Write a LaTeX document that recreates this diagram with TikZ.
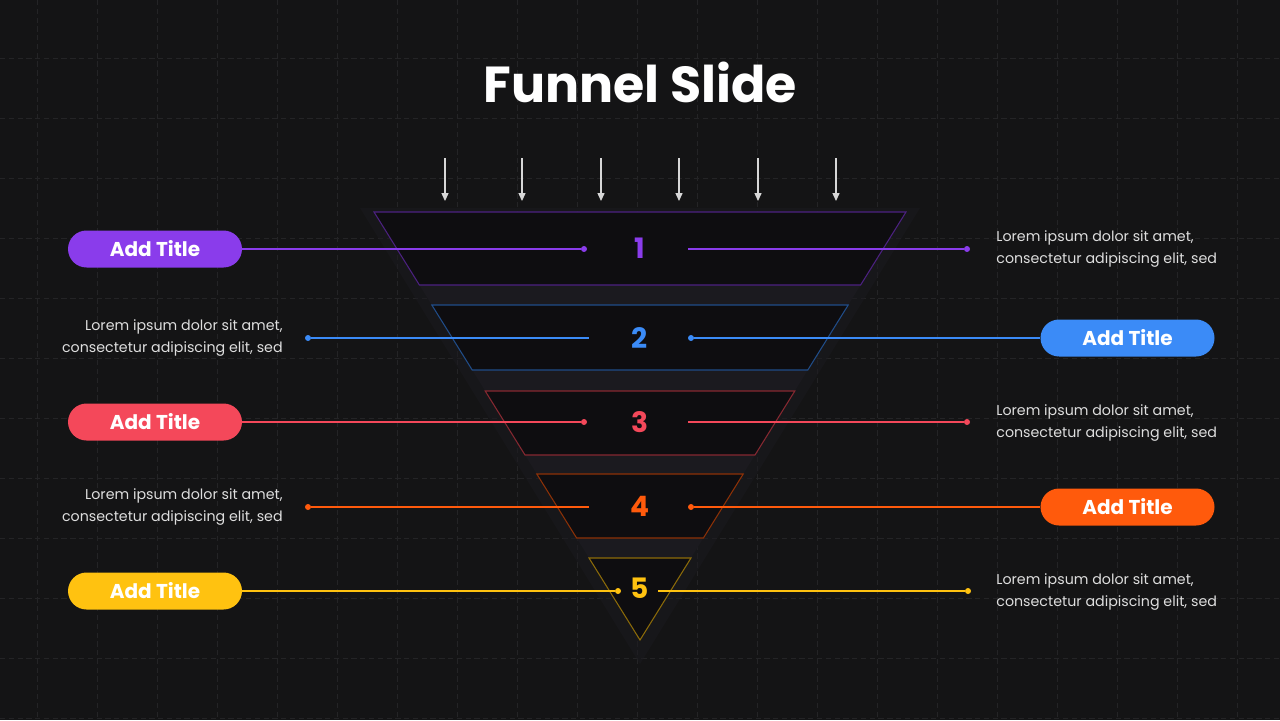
\documentclass[tikz,border=0pt]{standalone}
\usepackage{fontspec}
\setmainfont{Poppins}
\usetikzlibrary{arrows.meta, positioning, calc}
\definecolor{bgDark}{RGB}{20, 20, 21}
\definecolor{gridGray}{RGB}{36, 36, 38}
\definecolor{funnelFill}{RGB}{14, 13, 16}
\definecolor{glowGray}{RGB}{27, 26, 31}
\definecolor{stagePurple}{RGB}{138, 60, 235}
\definecolor{stageBlue}{RGB}{59, 139, 247}
\definecolor{stageRed}{RGB}{244, 72, 90}
\definecolor{stageOrange}{RGB}{255, 90, 12}
\definecolor{stageYellow}{RGB}{255, 194, 16}
\definecolor{textGray}{RGB}{222, 222, 222}
\definecolor{arrowGray}{RGB}{215, 215, 215}

\begin{document}
\begin{tikzpicture}[
    x=0.02cm, y=-0.02cm,
    gridline/.style={draw=gridGray, line width=0.45pt, dash pattern=on 3pt off 2pt},
    feed/.style={-{Triangle[length=4.5pt, width=4pt]}, line width=0.6pt, arrowGray},
    stage/.style={fill=funnelFill, draw=#1!55!black, line width=0.6pt},
    pill/.style={fill=#1, rounded corners=0.37cm, minimum width=3.48cm, minimum height=0.74cm, text=white, font=\fontsize{11.4}{14}\selectfont\bfseries, inner sep=0pt},
    desc/.style={text=textGray, font=\fontsize{8.1}{12.5}\selectfont, inner sep=0pt},
    num/.style={text=#1, font=\fontsize{16}{18}\selectfont\bfseries},
    dot/.style={circle, fill=#1, inner sep=0pt, minimum size=0.12cm},
    link/.style={draw=#1, line width=0.8pt}
]
    % Background and grid
    \fill[bgDark] (0,0) rectangle (1280,720);
    \useasboundingbox (0,0) rectangle (1280,720);
    \foreach \gx in {37,97,...,1280} \draw[gridline] (\gx,0) -- (\gx,720);
    \foreach \gy in {58,118,...,720} \draw[gridline] (0,\gy) -- (1280,\gy);

    % Title
    \node[text=white, font=\fontsize{28.8}{32}\selectfont\bfseries] (title) at (640,82) {Funnel Slide};

    % Incoming arrows
    \coordinate (in1s) at (445,158); \coordinate (in1e) at (445,201);
    \coordinate (in2s) at (522,158); \coordinate (in2e) at (522,201);
    \coordinate (in3s) at (601,158); \coordinate (in3e) at (601,201);
    \coordinate (in4s) at (679,158); \coordinate (in4e) at (679,201);
    \coordinate (in5s) at (758,158); \coordinate (in5e) at (758,201);
    \coordinate (in6s) at (836,158); \coordinate (in6e) at (836,201);
    \draw[feed] (in1s) -- (in1e);
    \draw[feed] (in2s) -- (in2e);
    \draw[feed] (in3s) -- (in3e);
    \draw[feed] (in4s) -- (in4e);
    \draw[feed] (in5s) -- (in5e);
    \draw[feed] (in6s) -- (in6e);

    % Funnel glow behind the stages
    \fill[glowGray, opacity=0.5] (360,208) -- (920,208) -- (640,664) -- cycle;
    \fill[glowGray] (374,212) -- (906,212) -- (640,640) -- cycle;

    % Funnel stages (one triangle cut into slices)
    \draw[stage=stagePurple] (374,212) -- (906,212) -- (860.6,285) -- (419.4,285) -- cycle;
    \draw[stage=stageBlue] (431.8,305) -- (848.2,305) -- (807.8,370) -- (472.2,370) -- cycle;
    \draw[stage=stageRed] (485.2,391) -- (794.8,391) -- (755,455) -- (525,455) -- cycle;
    \draw[stage=stageOrange] (536.8,474) -- (743.2,474) -- (703.4,538) -- (576.6,538) -- cycle;
    \draw[stage=stageYellow] (589,558) -- (691,558) -- (640,640) -- cycle;

    % Stage numbers
    \node[num=stagePurple] (n1) at (640,248) {1};
    \node[num=stageBlue] (n2) at (640,338) {2};
    \node[num=stageRed] (n3) at (640,422) {3};
    \node[num=stageOrange] (n4) at (640,506) {4};
    \node[num=stageYellow] (n5) at (640,588) {5};

    % Row 1
    \node[pill=stagePurple] (t1) at (155,249) {Add Title};
    \node[dot=stagePurple] (d1l) at (584,249) {};
    \coordinate (s1r) at (688,249);
    \node[dot=stagePurple] (d1r) at (967,249) {};
    \node[desc, anchor=west, align=left] (r1) at (996,249) {Lorem ipsum dolor sit amet,\\consectetur adipiscing elit, sed};
    \draw[link=stagePurple] (t1.east) -- (d1l);
    \draw[link=stagePurple] (s1r) -- (d1r);

    % Row 2
    \node[desc, anchor=east, align=right] (l2) at (283,338) {Lorem ipsum dolor sit amet,\\consectetur adipiscing elit, sed};
    \node[dot=stageBlue] (d2l) at (308,338) {};
    \coordinate (s2l) at (589,338);
    \node[dot=stageBlue] (d2r) at (691,338) {};
    \node[pill=stageBlue] (t2) at (1127.5,338) {Add Title};
    \draw[link=stageBlue] (d2l) -- (s2l);
    \draw[link=stageBlue] (d2r) -- (t2.west);

    % Row 3
    \node[pill=stageRed] (t3) at (155,422) {Add Title};
    \node[dot=stageRed] (d3l) at (584,422) {};
    \coordinate (s3r) at (688,422);
    \node[dot=stageRed] (d3r) at (967,422) {};
    \node[desc, anchor=west, align=left] (r3) at (996,423) {Lorem ipsum dolor sit amet,\\consectetur adipiscing elit, sed};
    \draw[link=stageRed] (t3.east) -- (d3l);
    \draw[link=stageRed] (s3r) -- (d3r);

    % Row 4
    \node[desc, anchor=east, align=right] (l4) at (283,507) {Lorem ipsum dolor sit amet,\\consectetur adipiscing elit, sed};
    \node[dot=stageOrange] (d4l) at (308,507) {};
    \coordinate (s4l) at (589,507);
    \node[dot=stageOrange] (d4r) at (691,507) {};
    \node[pill=stageOrange] (t4) at (1127.5,507) {Add Title};
    \draw[link=stageOrange] (d4l) -- (s4l);
    \draw[link=stageOrange] (d4r) -- (t4.west);

    % Row 5
    \node[pill=stageYellow] (t5) at (155,591) {Add Title};
    \node[dot=stageYellow] (d5l) at (618,591) {};
    \coordinate (s5r) at (658,591);
    \node[dot=stageYellow] (d5r) at (968,591) {};
    \node[desc, anchor=west, align=left] (r5) at (996,592) {Lorem ipsum dolor sit amet,\\consectetur adipiscing elit, sed};
    \draw[link=stageYellow] (t5.east) -- (d5l);
    \draw[link=stageYellow] (s5r) -- (d5r);
\end{tikzpicture}
\end{document}
